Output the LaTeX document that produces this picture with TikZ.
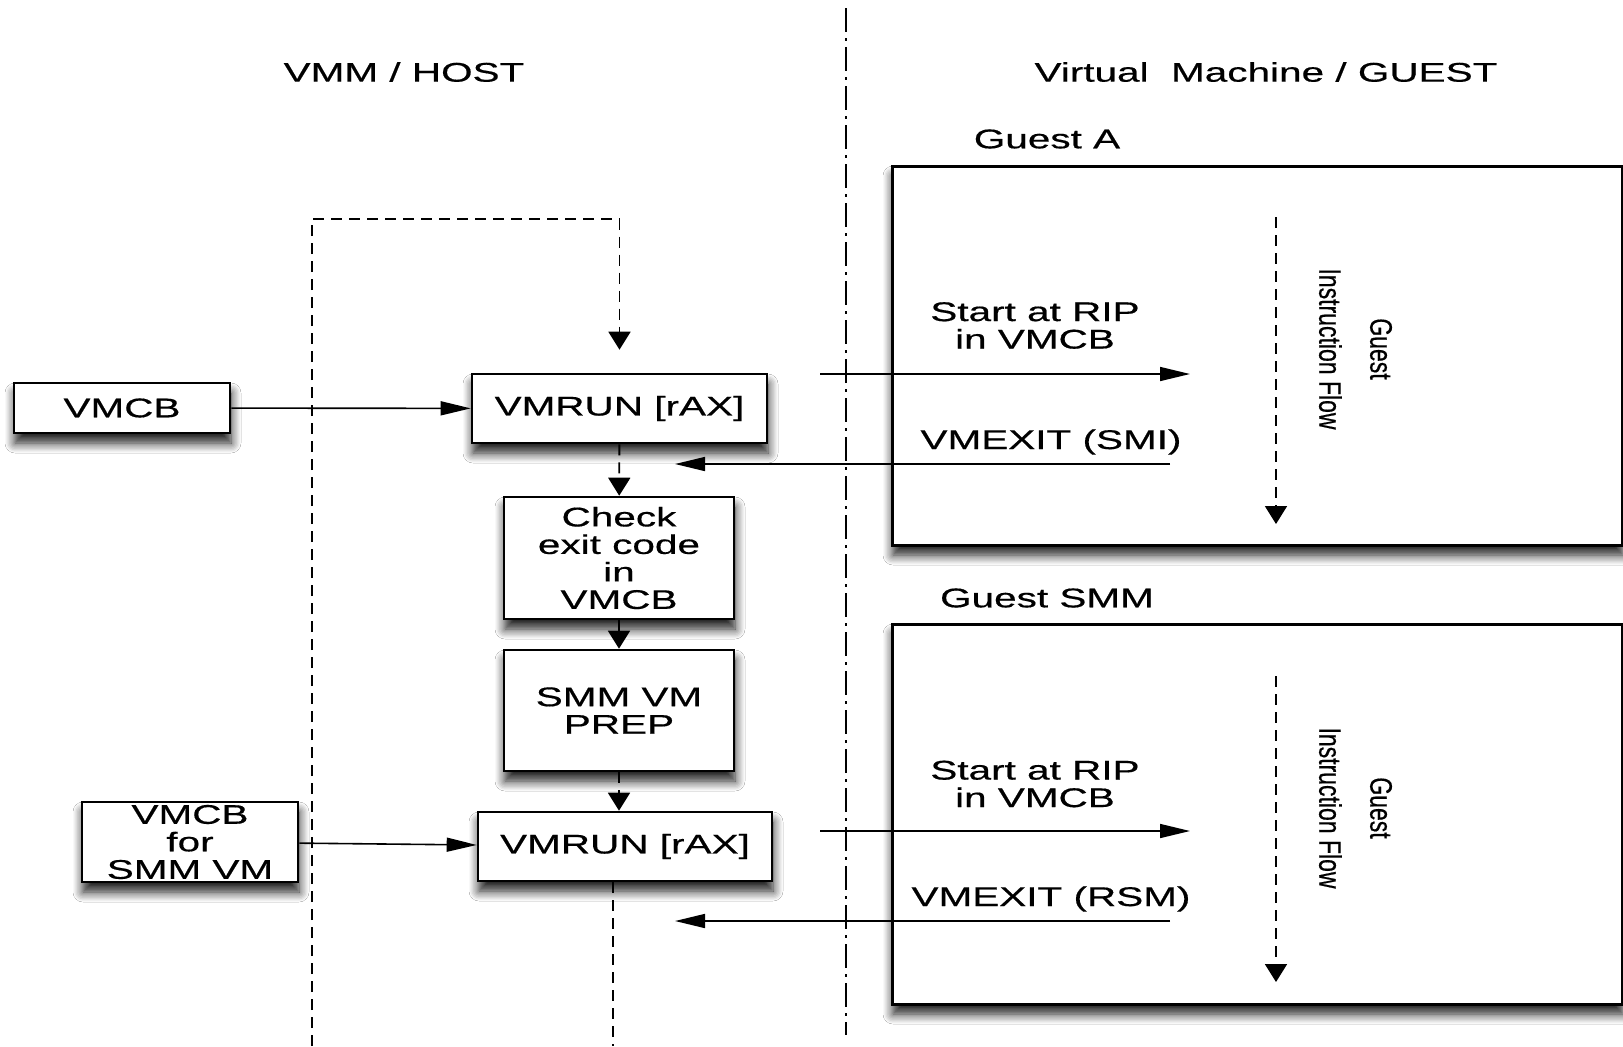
\documentclass[tikz,border=0pt]{standalone}
\usepackage{fontspec}
\setmainfont{Liberation Sans}[FakeStretch=1.5, FakeBold=0.5]
\newfontfamily\flowfont{Liberation Sans}[FakeBold=0.6]
\usetikzlibrary{arrows.meta,shadows.blur}
\newcommand\boxfont{\fontsize{13.5}{13.75}\selectfont}
\newcommand\flowlabel[2]{\scalebox{1}[1.35]{\flowfont\fontsize{11.5}{18.9}\selectfont
  \begin{tabular}{@{}c@{}}#1\\#2\end{tabular}}}

\tikzset{
  box/.style={draw=black, line width=1.3pt, fill=white, inner sep=0pt,
    align=center, font=\boxfont,
    blur shadow={shadow xshift=0.5pt, shadow yshift=-5pt,
      shadow blur radius=5pt, shadow blur steps=8, shadow opacity=90}},
  guestbox/.style={box, line width=1.5pt},
  lbl/.style={inner sep=0pt, align=center, font=\boxfont},
  flowlbl/.style={inner sep=0pt, rotate=-90},
  harrow/.style={line width=0.8pt, -{Triangle[length=15pt,width=7pt]}},
  varrow/.style={line width=0.9pt, -{Triangle[length=9pt,width=11pt]}},
  dashln/.style={line width=0.9pt, dash pattern=on 5.5pt off 3.5pt},
  divider/.style={line width=0.8pt, dash pattern=on 12pt off 3pt on 1.5pt off 3pt},
}

\begin{document}
\begin{tikzpicture}[x=0.5pt, y=-0.5pt]
\useasboundingbox (0,0) rectangle (1623,1046);
\fill[white] (0,0) rectangle (1623,1046);
\clip (0,0) rectangle (1623,1046);

% column headings and the host/guest divider
\node[lbl] (hosttitle) at (404,72) {VMM / HOST};
\node[lbl] (guesttitle) at (1266,72) {Virtual\ \ Machine / GUEST};
\coordinate (divtop) at (846,8);
\coordinate (divbot) at (846,1035);
\draw[divider] (divtop) -- (divbot);

% guest containers
\node[guestbox, minimum width=365pt, minimum height=189.5pt] (guestA) at (1257,355.5) {};
\node[guestbox, minimum width=365pt, minimum height=190pt] (guestB) at (1257,814) {};
\node[lbl] (guestAlbl) at (1047,139) {Guest A};
\node[lbl] (guestBlbl) at (1047,598) {Guest SMM};

% host-side flow
\node[box, minimum width=108pt, minimum height=25pt] (vmcb) at (122,408) {VMCB};
\node[box, minimum width=147.5pt, minimum height=34.5pt] (vmrun1) at (619.5,408.5) {\raisebox{-1pt}{VMRUN [rAX]}};
\node[box, minimum width=115pt, minimum height=61pt] (check) at (619,558) {Check\\exit code\\in\\VMCB};
\node[box, minimum width=115pt, minimum height=60.5pt] (smmprep) at (619,710.5) {SMM VM\\PREP};
\node[box, minimum width=147pt, minimum height=34.5pt] (vmrun2) at (625,846.5) {\raisebox{-1pt}{VMRUN [rAX]}};
\node[box, minimum width=108pt, minimum height=40pt] (vmcbsmm) at (190,842) {VMCB\\for\\SMM VM};

% loop back into the first VMRUN
\coordinate (loopbot) at (312,1046);
\coordinate (loopcorner) at (312,219);
\draw[dashln, varrow, shorten >=11.5pt] (loopbot) -- (loopcorner) -| (vmrun1.north);

\draw[harrow] (vmcb) -- (vmrun1);
\draw[dashln, varrow] (vmrun1) -- (check);
\draw[varrow] (check) -- (smmprep);
\draw[dashln, varrow] (smmprep.south) -- (smmprep.south |- vmrun2.north);
\draw[harrow] (vmcbsmm) -- (vmrun2);
\coordinate (tailend) at (613,1046);
\draw[dashln] (vmrun2.south -| tailend) -- (tailend);

% guest A entry / exit
\node[lbl] (startA) at (1035,325.5) {Start at RIP\\in VMCB};
\node[lbl] (exitA) at (1051,442) {VMEXIT (SMI)};
\coordinate (enterA0) at (820,374);
\coordinate (enterA1) at (1190,374);
\draw[harrow] (enterA0) -- (enterA1);
\coordinate (leaveA0) at (1170,464);
\coordinate (leaveA1) at (675,464);
\draw[harrow] (leaveA0) -- (leaveA1);
\coordinate (flowA0) at (1276,217);
\coordinate (flowA1) at (1276,524);
\draw[dashln, varrow] (flowA0) -- (flowA1);
\node[flowlbl] (flowAlbl) at (1355,349) {\flowlabel{Guest}{Instruction Flow}};

% guest SMM entry / exit
\node[lbl] (startB) at (1035,784) {Start at RIP\\in VMCB};
\node[lbl] (exitB) at (1051,899) {VMEXIT (RSM)};
\coordinate (enterB0) at (820,831);
\coordinate (enterB1) at (1190,831);
\draw[harrow] (enterB0) -- (enterB1);
\coordinate (leaveB0) at (1170,921);
\coordinate (leaveB1) at (675,921);
\draw[harrow] (leaveB0) -- (leaveB1);
\coordinate (flowB0) at (1276,676);
\coordinate (flowB1) at (1276,982);
\draw[dashln, varrow] (flowB0) -- (flowB1);
\node[flowlbl] (flowBlbl) at (1355,808) {\flowlabel{Guest}{Instruction Flow}};
\end{tikzpicture}
\end{document}
